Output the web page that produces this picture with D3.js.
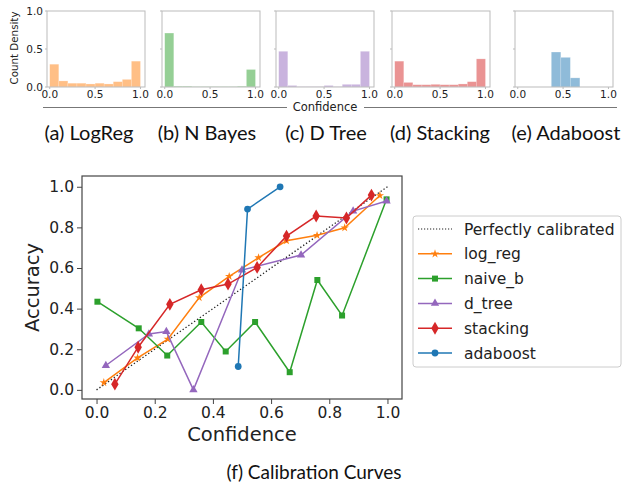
<!DOCTYPE html>
<html>
<head>
<meta charset="utf-8">
<script src="https://cdn.jsdelivr.net/npm/d3@7"></script>
<style>
  body { margin: 0; background: #fff; }
  text { font-family: "DejaVu Sans", sans-serif; fill: #222; }
  .caption { font-family: "Lato", sans-serif; fill: #111; }
</style>
</head>
<body>
<script>
// histogram densities, 10 bins over [0,1] unless edges given
var histNames = ["(a) LogReg", "(b) N Bayes", "(c) D Tree", "(d) Stacking", "(e) Adaboost"]
var histColors = ["#ff7f0e", "#2ca02c", "#9467bd", "#d62728", "#1f77b4"]
var stdEdges = [0, 0.1, 0.2, 0.3, 0.4, 0.5, 0.6, 0.7, 0.8, 0.9, 1.0]
var adaEdges = [0.37, 0.475, 0.58, 0.685]
var histLogReg = [0.30, 0.08, 0.05, 0.05, 0.04, 0.05, 0.04, 0.07, 0.10, 0.34]
var histNBayes = [0.71, 0.01, 0.01, 0.005, 0.005, 0.005, 0.005, 0.005, 0.01, 0.23]
var histDTree = [0.47, 0.02, 0.005, 0.005, 0.005, 0.02, 0.005, 0.035, 0.035, 0.47]
var histStacking = [0.34, 0.06, 0.03, 0.03, 0.035, 0.03, 0.03, 0.04, 0.07, 0.37]
var histAdaboost = [0.46, 0.39, 0.12]
var histTicks = [0, 0.5, 1]

// calibration curves
var seriesNames = ["log_reg", "naive_b", "d_tree", "stacking", "adaboost"]
var logRegX = [0.025, 0.141, 0.245, 0.353, 0.456, 0.557, 0.653, 0.758, 0.853, 0.974]
var logRegY = [0.036, 0.157, 0.25, 0.454, 0.559, 0.651, 0.734, 0.761, 0.798, 0.957]
var naiveX = [0.003, 0.145, 0.243, 0.36, 0.444, 0.545, 0.664, 0.759, 0.844, 0.997]
var naiveY = [0.434, 0.303, 0.169, 0.334, 0.189, 0.334, 0.087, 0.541, 0.366, 0.938]
var dTreeX = [0.032, 0.18, 0.24, 0.333, 0.5, 0.703, 0.882, 0.997]
var dTreeY = [0.12, 0.275, 0.287, 0.0, 0.59, 0.664, 0.88, 0.93]
var stackX = [0.063, 0.143, 0.252, 0.36, 0.452, 0.552, 0.653, 0.755, 0.859, 0.945]
var stackY = [0.028, 0.21, 0.421, 0.493, 0.521, 0.603, 0.757, 0.856, 0.846, 0.959]
var adaX = [0.487, 0.519, 0.631]
var adaY = [0.115, 0.89, 1.0]
var mainTicks = [0, 0.2, 0.4, 0.6, 0.8, 1.0]

var W = 623, H = 485

var svg = d3.select("body").append("svg")
    .attr("width", W)
    .attr("height", H)

// ---------- top row: histograms ----------
var hists = [
  { vals: histLogReg, edges: stdEdges },
  { vals: histNBayes, edges: stdEdges },
  { vals: histDTree, edges: stdEdges },
  { vals: histStacking, edges: stdEdges },
  { vals: histAdaboost, edges: adaEdges }
]
var panelLeft = [47, 162, 276, 392, 515],
    panelW = 98,
    panelTop = 11,
    panelH = 76,
    captionX = [89, 207, 326, 440, 566]

hists.forEach(function(h, k) {
  var g = svg.append("g").attr("transform", "translate(" + panelLeft[k] + "," + panelTop + ")")
  var x = d3.scaleLinear().domain([-0.03, 1.05]).range([0, panelW])
  var y = d3.scaleLinear().domain([0, 1]).range([panelH, 0])

  var bins = h.vals.map(function(v, i) { return { x0: h.edges[i], x1: h.edges[i + 1], v: v } })
  g.selectAll(".bar")
    .data(bins)
    .enter().append("rect")
    .attr("x", function(d) { return x(d.x0) })
    .attr("y", function(d) { return y(d.v) })
    .attr("width", function(d) { return x(d.x1) - x(d.x0) })
    .attr("height", function(d) { return panelH - y(d.v) })
    .style("fill", histColors[k])
    .style("fill-opacity", 0.5)
    .style("stroke", "#fff")
    .style("stroke-opacity", 0.35)
    .style("stroke-width", 0.6)

  g.append("rect")
    .attr("width", panelW).attr("height", panelH)
    .style("fill", "none").style("stroke", "#bbb").style("stroke-width", 1)

  // x ticks
  g.selectAll(".xt")
    .data(histTicks)
    .enter().append("text")
    .attr("x", function(d) { return x(d) })
    .attr("y", panelH + 11)
    .style("font-size", "10.5px")
    .style("text-anchor", "middle")
    .text(function(d) { return d3.format(".1f")(d) })
  g.selectAll(".xtm")
    .data(histTicks)
    .enter().append("line")
    .attr("x1", function(d) { return x(d) }).attr("x2", function(d) { return x(d) })
    .attr("y1", panelH).attr("y2", panelH + 2)
    .style("stroke", "#bbb")
  // y tick marks
  g.selectAll(".ytm")
    .data(histTicks)
    .enter().append("line")
    .attr("x1", -2).attr("x2", 0)
    .attr("y1", function(d) { return y(d) }).attr("y2", function(d) { return y(d) })
    .style("stroke", "#bbb")
  if (k == 0) {
    g.selectAll(".yt")
      .data(histTicks)
      .enter().append("text")
      .attr("x", -4)
      .attr("y", function(d) { return y(d) + 4 })
      .style("font-size", "10.5px")
      .style("text-anchor", "end")
      .text(function(d) { return d3.format(".1f")(d) })
    g.append("text")
      .attr("transform", "translate(-29," + (panelH / 2 - 1) + ") rotate(-90)")
      .style("font-size", "10.3px")
      .style("text-anchor", "middle")
      .text("Count Density")
  }

  svg.append("text")
    .attr("class", "caption")
    .attr("x", captionX[k])
    .attr("y", 140)
    .style("font-size", "20px")
    .style("text-anchor", "middle")
    .text(histNames[k])
})

// shared "Confidence" label with rule
svg.append("line").attr("x1", 43).attr("x2", 287).attr("y1", 107.5).attr("y2", 107.5)
  .style("stroke", "#777").style("stroke-width", 1)
svg.append("line").attr("x1", 364).attr("x2", 617).attr("y1", 107.5).attr("y2", 107.5)
  .style("stroke", "#777").style("stroke-width", 1)
svg.append("text")
  .attr("x", 325).attr("y", 111)
  .style("font-size", "11.5px")
  .style("text-anchor", "middle")
  .text("Confidence")

// ---------- main calibration plot ----------
var m = { left: 82, top: 176, right: 402, bottom: 399 }
var xs = d3.scaleLinear().domain([-0.05, 1.05]).range([m.left, m.right])
var ys = d3.scaleLinear().domain([-0.045, 1.053]).range([m.bottom, m.top])

var main = svg.append("g")

main.append("g")
  .attr("transform", "translate(0," + m.bottom + ")")
  .call(d3.axisBottom(xs).tickValues(mainTicks).tickFormat(d3.format(".1f")).tickSize(5).tickSizeOuter(0))
  .call(function(a) {
    a.select(".domain").remove()
    a.selectAll("line").style("stroke", "#444")
    a.selectAll("text").style("font-size", "15.5px").style("font-family", "DejaVu Sans").style("fill", "#222").attr("y", 7).attr("dy", "0.75em")
  })
main.append("g")
  .attr("transform", "translate(" + m.left + ",0)")
  .call(d3.axisLeft(ys).tickValues(mainTicks).tickFormat(d3.format(".1f")).tickSize(5).tickSizeOuter(0))
  .call(function(a) {
    a.select(".domain").remove()
    a.selectAll("line").style("stroke", "#444")
    a.selectAll("text").style("font-size", "15.5px").style("font-family", "DejaVu Sans").style("fill", "#222")
  })

main.append("rect")
  .attr("x", m.left).attr("y", m.top)
  .attr("width", m.right - m.left).attr("height", m.bottom - m.top)
  .style("fill", "none").style("stroke", "#444").style("stroke-width", 1.2)

// perfectly calibrated
main.append("line")
  .attr("x1", xs(0)).attr("y1", ys(0)).attr("x2", xs(1)).attr("y2", ys(1))
  .style("stroke", "#222").style("stroke-width", 1.3).style("stroke-dasharray", "1.3,2.2")

var series = [
  { name: seriesNames[0], xs: logRegX, ys: logRegY, color: "#ff7f0e", sym: d3.symbolStar, size: 22 },
  { name: seriesNames[1], xs: naiveX, ys: naiveY, color: "#2ca02c", sym: d3.symbolSquare, size: 36 },
  { name: seriesNames[2], xs: dTreeX, ys: dTreeY, color: "#9467bd", sym: d3.symbolTriangle, size: 30 },
  { name: seriesNames[3], xs: stackX, ys: stackY, color: "#d62728", sym: d3.symbolDiamond, size: 48 },
  { name: seriesNames[4], xs: adaX, ys: adaY, color: "#1f77b4", sym: d3.symbolCircle, size: 36 }
]

var line = d3.line().x(function(d) { return xs(d[0]) }).y(function(d) { return ys(d[1]) })

series.forEach(function(s) {
  var pts = s.xs.map(function(v, i) { return [v, s.ys[i]] })
  main.append("path")
    .attr("d", line(pts))
    .style("fill", "none")
    .style("stroke", s.color)
    .style("stroke-width", 1.5)
  main.selectAll(".pt-" + s.name)
    .data(pts)
    .enter().append("path")
    .attr("transform", function(d) { return "translate(" + xs(d[0]) + "," + ys(d[1]) + ")" })
    .attr("d", d3.symbol().type(s.sym).size(s.size))
    .style("fill", s.color)
})

main.append("text")
  .attr("x", (m.left + m.right) / 2 + 0).attr("y", 441)
  .style("font-size", "19.5px")
  .style("text-anchor", "middle")
  .text("Confidence")
main.append("text")
  .attr("transform", "translate(39," + ((m.top + m.bottom) / 2) + ") rotate(-90)")
  .style("font-size", "19.5px")
  .style("text-anchor", "middle")
  .text("Accuracy")

svg.append("text")
  .attr("class", "caption")
  .attr("x", 314).attr("y", 479)
  .style("font-size", "19px")
  .style("text-anchor", "middle")
  .text("(f) Calibration Curves")

// legend
var lg = svg.append("g").attr("transform", "translate(413,216)")
lg.append("rect")
  .attr("width", 208).attr("height", 151)
  .attr("rx", 3)
  .style("fill", "#fff").style("stroke", "#ccc")

var legendItems = [{ name: "Perfectly calibrated", color: "#222", dotted: true }].concat(series)
var li = lg.selectAll(".legend")
  .data(legendItems)
  .enter().append("g")
  .attr("class", "legend")
  .attr("transform", function(d, i) { return "translate(0," + (13 + i * 24.8) + ")" })
li.append("line")
  .attr("x1", 5).attr("x2", 39)
  .style("stroke", function(d) { return d.color })
  .style("stroke-width", function(d) { return d.dotted ? 1.2 : 1.5 })
  .style("stroke-dasharray", function(d) { return d.dotted ? "1.2,1.8" : null })
li.filter(function(d) { return !d.dotted }).append("path")
  .attr("transform", "translate(22,0)")
  .attr("d", function(d) { return d3.symbol().type(d.sym).size(d.size)() })
  .style("fill", function(d) { return d.color })
li.append("text")
  .attr("x", 51).attr("y", 5.5)
  .style("font-size", "15.5px")
  .text(function(d) { return d.name })
</script>
</body>
</html>
